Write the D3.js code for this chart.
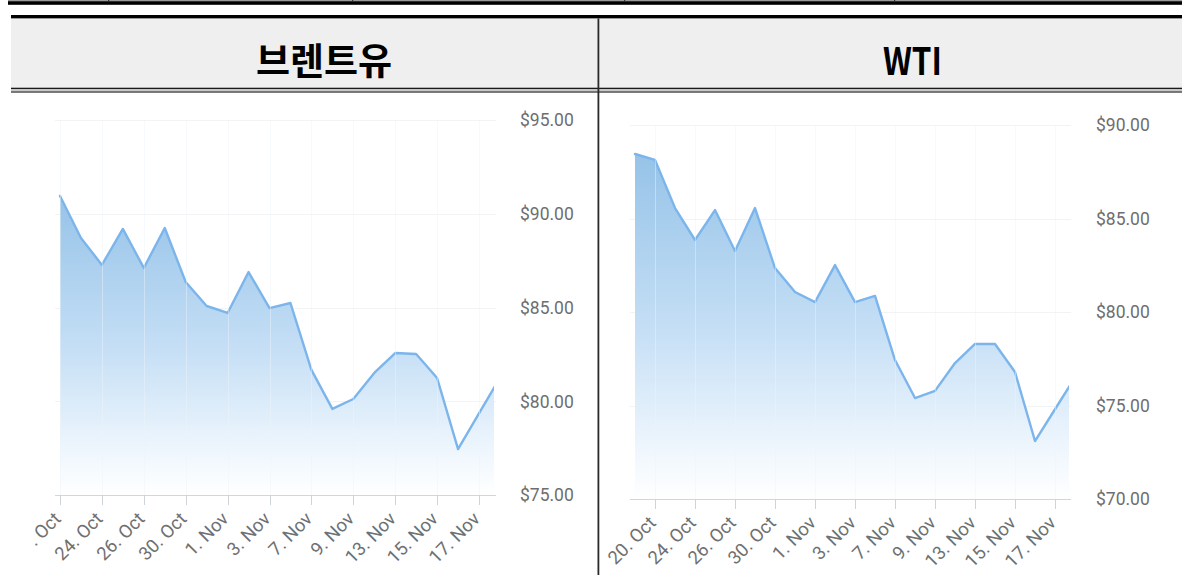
<!DOCTYPE html>
<html>
<head>
<meta charset="utf-8">
<script src="https://cdn.jsdelivr.net/npm/d3@7/dist/d3.min.js"></script>
<style>
  html, body { margin: 0; padding: 0; background: #fff; }
  svg { display: block; }
</style>
</head>
<body>
<svg id="c" width="1182" height="575"></svg>
<script>
// ---------- DATA ----------
const titles = ["브렌트유", "WTI"];

const brentDates = ["20. Oct","23. Oct","24. Oct","25. Oct","26. Oct","27. Oct","30. Oct","31. Oct",
  "1. Nov","2. Nov","3. Nov","6. Nov","7. Nov","8. Nov","9. Nov","10. Nov","13. Nov","14. Nov",
  "15. Nov","16. Nov","17. Nov","20. Nov"];
const brentValues = [90.95, 88.71, 87.27, 89.19, 87.11, 89.24, 86.36, 85.08,
  84.71, 86.89, 84.97, 85.24, 81.67, 79.59, 80.12, 81.51, 82.57, 82.52,
  81.24, 77.45, 79.35, 81.25];

const wtiDates = ["19. Oct","20. Oct","23. Oct","24. Oct","25. Oct","26. Oct","27. Oct","30. Oct","31. Oct",
  "1. Nov","2. Nov","3. Nov","6. Nov","7. Nov","8. Nov","9. Nov","10. Nov","13. Nov","14. Nov",
  "15. Nov","16. Nov","17. Nov","20. Nov"];
const wtiValues = [88.45, 88.13, 85.56, 83.85, 85.45, 83.26, 85.56, 82.35, 81.07,
  80.53, 82.51, 80.53, 80.86, 77.43, 75.40, 75.78, 77.27, 78.29, 78.29,
  76.79, 73.10, 74.80, 76.50];

const xTickLabels = ["20. Oct","24. Oct","26. Oct","30. Oct","1. Nov","3. Nov","7. Nov","9. Nov","13. Nov","15. Nov","17. Nov"];
const brentYTicks = [75, 80, 85, 90, 95];
const wtiYTicks = [70, 75, 80, 85, 90];

// ---------- FRAME ----------
const svg = d3.select("#c");
const defs = svg.append("defs");

// remnant of table above
svg.append("rect").attr("x", 8).attr("y", 0).attr("width", 1174).attr("height", 1.2).attr("fill", "#9a9a9a");
svg.append("rect").attr("x", 8).attr("y", 1.2).attr("width", 1174).attr("height", 3.6).attr("fill", "#000");
[108, 352, 624, 894].forEach(x => {
  svg.append("rect").attr("x", x).attr("y", 0).attr("width", 1.2).attr("height", 2).attr("fill", "#333");
});

// header band
svg.append("rect").attr("x", 11).attr("y", 15).attr("width", 1171).attr("height", 3.4).attr("fill", "#000");
svg.append("rect").attr("x", 11).attr("y", 18.4).attr("width", 1171).attr("height", 0.8).attr("fill", "#999");
svg.append("rect").attr("x", 11).attr("y", 19.2).attr("width", 1171).attr("height", 68.5).attr("fill", "#efefef");
svg.append("rect").attr("x", 11).attr("y", 87.7).attr("width", 1171).attr("height", 1.6).attr("fill", "#1a1a1a");
svg.append("rect").attr("x", 11).attr("y", 89.3).attr("width", 1171).attr("height", 2).attr("fill", "#c8c8c8");
svg.append("rect").attr("x", 11).attr("y", 91.3).attr("width", 1171).attr("height", 1.4).attr("fill", "#444");
svg.append("rect").attr("x", 597.5).attr("y", 18.4).attr("width", 1.8).attr("height", 557).attr("fill", "#2a2a2a");

svg.append("text").attr("x", 324).attr("y", 75).attr("text-anchor", "middle")
  .attr("font-family", "'Noto Sans CJK KR', sans-serif").attr("font-weight", 700)
  .attr("font-size", 37).attr("fill", "#000").text(titles[0]);
svg.append("text").attr("x", 883).attr("y", 75)
  .attr("font-family", "'Noto Sans CJK KR', sans-serif").attr("font-weight", 700)
  .attr("font-size", 38).attr("fill", "#000")
  .attr("textLength", 59).attr("lengthAdjust", "spacingAndGlyphs").text(titles[1]);

// ---------- CHARTS ----------
function drawChart(cfg) {
  const { id, dates, values, yTicks, x0, step, plotL, plotR, yBot, yTop, clipL, clipR, labelX } = cfg;
  const x = d3.scaleLinear().domain([0, 1]).range([x0, x0 + step]);
  const y = d3.scaleLinear().domain([yTicks[0], yTicks[yTicks.length - 1]]).range([yBot, yTop]);

  const outer = "outer" + id, plotClip = "plot" + id, grad = "grad" + id;
  defs.append("clipPath").attr("id", outer).append("rect")
    .attr("x", clipL).attr("y", 95).attr("width", clipR - clipL).attr("height", 480);
  defs.append("clipPath").attr("id", plotClip).append("rect")
    .attr("x", plotL).attr("y", yTop - 10).attr("width", plotR - plotL).attr("height", yBot - yTop + 10);
  const lg = defs.append("linearGradient").attr("id", grad).attr("x1", 0).attr("y1", 0).attr("x2", 0).attr("y2", 1);
  lg.append("stop").attr("offset", 0).attr("stop-color", "rgb(150,195,232)");
  lg.append("stop").attr("offset", 0.5).attr("stop-color", "rgb(196,222,245)");
  lg.append("stop").attr("offset", 0.85).attr("stop-color", "rgb(238,246,253)");
  lg.append("stop").attr("offset", 1).attr("stop-color", "rgb(255,255,255)");

  const g = svg.append("g").attr("clip-path", `url(#${outer})`);
  const axisL = x(0) - 5;
  const tickIdx = xTickLabels.map(l => dates.indexOf(l));

  // horizontal grid (behind series)
  g.append("g").selectAll("line").data(yTicks.slice(1)).join("line")
    .attr("x1", axisL).attr("x2", plotR + 2)
    .attr("y1", d => Math.round(y(d)) + 0.5).attr("y2", d => Math.round(y(d)) + 0.5)
    .attr("stroke", "#f3f3f3").attr("stroke-width", 1);

  // series fill
  const series = g.append("g").attr("clip-path", `url(#${plotClip})`);
  const area = d3.area().x((d, i) => x(i)).y0(yBot).y1(d => y(d));
  const line = d3.line().x((d, i) => x(i)).y(d => y(d));
  series.append("path").datum(values).attr("d", area).attr("fill", `url(#${grad})`);

  // vertical grid (faint)
  g.append("g").selectAll("line").data(tickIdx).join("line")
    .attr("x1", d => Math.round(x(d)) + 0.5).attr("x2", d => Math.round(x(d)) + 0.5)
    .attr("y1", yTop).attr("y2", yBot)
    .attr("stroke", "#eef3f8").attr("stroke-opacity", 0.45).attr("stroke-width", 1);

  series.append("path").datum(values).attr("d", line).attr("fill", "none")
    .attr("stroke", "#7cb5ec").attr("stroke-width", 2.4)
    .attr("stroke-linejoin", "round").attr("stroke-linecap", "round");

  // x axis
  g.append("line").attr("x1", axisL).attr("x2", plotR + 2)
    .attr("y1", yBot + 0.5).attr("y2", yBot + 0.5).attr("stroke", "#d2d6dc").attr("stroke-width", 1.2);
  g.append("g").selectAll("line").data(tickIdx).join("line")
    .attr("x1", d => Math.round(x(d)) + 0.5).attr("x2", d => Math.round(x(d)) + 0.5)
    .attr("y1", yBot).attr("y2", yBot + 10)
    .attr("stroke", "#cfd4db").attr("stroke-width", 1);
  g.append("g").selectAll("text").data(tickIdx).join("text")
    .attr("transform", d => `translate(${x(d) + 2},${yBot + 25}) rotate(-45)`)
    .attr("text-anchor", "end")
    .attr("font-family", "Roboto, 'Noto Sans', sans-serif").attr("font-size", 18.5)
    .attr("fill", "#707070")
    .text((d, i) => xTickLabels[i]);

  // y labels (right side)
  const fmt = d3.format("$.2f");
  g.append("g").selectAll("text").data(yTicks).join("text")
    .attr("x", labelX).attr("y", d => y(d)).attr("dy", "0.36em")
    .attr("font-family", "Roboto, 'Noto Sans', sans-serif").attr("font-size", 17.5)
    .attr("fill", "#6e6e6e")
    .text(d => fmt(d));
}

drawChart({ id: "b", dates: brentDates, values: brentValues, yTicks: brentYTicks,
  x0: 60, step: 20.95, plotL: 55, plotR: 494, yBot: 495, yTop: 120,
  clipL: 34, clipR: 597, labelX: 520 });
drawChart({ id: "w", dates: wtiDates, values: wtiValues, yTicks: wtiYTicks,
  x0: 635, step: 20.0, plotL: 630, plotR: 1069, yBot: 499, yTop: 125,
  clipL: 600, clipR: 1182, labelX: 1096 });
</script>
</body>
</html>
